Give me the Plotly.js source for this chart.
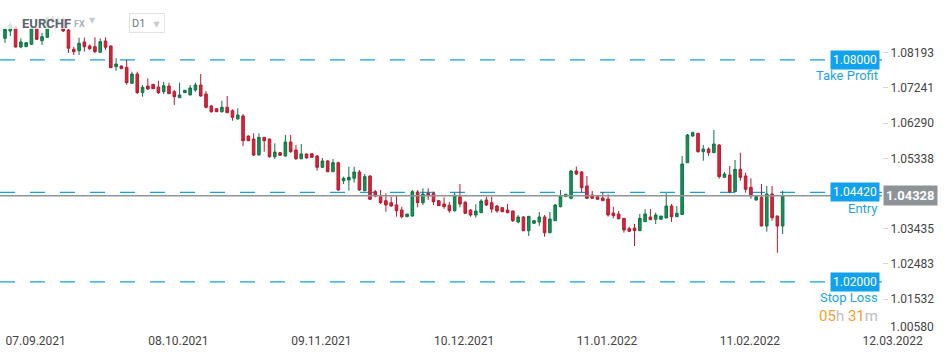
<!DOCTYPE html>
<html>
<head>
<meta charset="utf-8">
<script src="https://cdn.plot.ly/plotly-3.0.1.min.js"></script>
<style>
html,body{margin:0;padding:0;background:#fff;}
#chart{width:950px;height:360px;}
</style>
</head>
<body>
<div id="chart"></div>
<script>
// ---------------- data ----------------
const symbol = 'EURCHF';
const market = 'FX';
const timeframe = 'D1';
const firstDate = '2021-09-07';   // first daily bar (Sun–Fri bars, no Saturdays)

const open = [
1.08582,1.08779,1.08887,1.08347,1.08355,1.08420,1.08860,1.08517,1.08609,1.09131,
1.09022,1.09104,1.08806,1.08285,1.08247,1.08482,1.08374,1.08355,1.08204,1.08509,
1.08374,1.07814,1.07833,1.07798,1.07366,1.07617,1.07112,1.07293,1.07339,1.07266,
1.07139,1.07293,1.07139,1.06977,1.07112,1.07050,1.07185,1.07320,1.07077,1.06752,
1.06679,1.06598,1.06717,1.06625,1.06401,1.06482,1.05941,1.05860,1.05428,1.05906,
1.05860,1.05382,1.05490,1.05401,1.05779,1.05563,1.05328,1.05455,1.05463,1.05401,
1.05095,1.05266,1.04976,1.05220,1.04733,1.04752,1.04798,1.04968,1.04463,1.04860,
1.04436,1.04302,1.04193,1.04139,1.04077,1.03941,1.03760,1.03779,1.04428,1.04139,
1.04393,1.04393,1.04193,1.04104,1.04069,1.03922,1.04302,1.04150,1.03941,1.03806,
1.03868,1.04212,1.04139,1.04050,1.04004,1.03941,1.03914,1.03617,1.03752,1.03382,
1.03582,1.03617,1.03752,1.03328,1.03652,1.04031,1.04302,1.04258,1.04995,1.04968,
1.04590,1.04347,1.04302,1.04266,1.04239,1.03860,1.03833,1.03716,1.03436,1.03455,
1.03382,1.03625,1.03752,1.03690,1.03690,1.03725,1.04050,1.03760,1.03820,1.05220,
1.05941,1.06014,1.05517,1.05590,1.05490,1.05698,1.04825,1.04887,1.04436,1.05041,
1.04860,1.04555,1.04212,1.04285,1.03509,1.04374,1.03779,1.03509];

const high = [
1.08914,1.09022,1.08914,1.08582,1.08482,1.08941,1.08887,1.08725,1.09158,1.09185,
1.09158,1.09158,1.08833,1.08355,1.08598,1.08598,1.08414,1.08609,1.08582,1.08609,
1.08387,1.08042,1.07847,1.07995,1.07679,1.07679,1.07320,1.07501,1.07347,1.07436,
1.07409,1.07382,1.07185,1.07382,1.07185,1.07320,1.07382,1.07617,1.07158,1.06779,
1.06698,1.06895,1.07023,1.06663,1.06690,1.06536,1.05955,1.06014,1.06014,1.05914,
1.05874,1.05744,1.05509,1.05968,1.05968,1.05698,1.05725,1.05468,1.05468,1.05428,
1.05347,1.05293,1.05320,1.05247,1.04842,1.05112,1.05112,1.05022,1.04914,1.04879,
1.04482,1.04482,1.04393,1.04302,1.04347,1.04031,1.03833,1.04482,1.04482,1.04528,
1.04528,1.04436,1.04212,1.04285,1.04158,1.04409,1.04644,1.04185,1.03960,1.04096,
1.04231,1.04302,1.04302,1.04077,1.04023,1.04104,1.03922,1.03806,1.03779,1.03779,
1.03671,1.03887,1.03806,1.03887,1.04104,1.04482,1.04374,1.05022,1.05112,1.04995,
1.04860,1.04455,1.04307,1.04428,1.04366,1.04031,1.03914,1.03725,1.03490,1.03563,
1.03833,1.03960,1.03968,1.03868,1.03779,1.04393,1.04104,1.04050,1.05401,1.05995,
1.06058,1.06022,1.05698,1.05636,1.06103,1.05725,1.04968,1.05131,1.05293,1.05490,
1.04949,1.04798,1.04339,1.04644,1.04590,1.04590,1.03787,1.04463];

const low = [
1.08455,1.08644,1.08333,1.08312,1.08347,1.08401,1.08536,1.08401,1.08590,1.08968,
1.08968,1.08752,1.08185,1.08131,1.08131,1.08220,1.08266,1.08176,1.08193,1.08266,
1.07779,1.07706,1.07752,1.07328,1.07352,1.07077,1.07004,1.07185,1.07212,1.07077,
1.07077,1.07077,1.06779,1.06972,1.07104,1.07042,1.07139,1.07004,1.06690,1.06571,
1.06590,1.06571,1.06563,1.06355,1.06393,1.05671,1.05806,1.05401,1.05420,1.05517,
1.05355,1.05320,1.05401,1.05382,1.05490,1.05293,1.05312,1.05333,1.05360,1.05003,
1.05076,1.04968,1.04968,1.04463,1.04644,1.04463,1.04679,1.04463,1.04455,1.04212,
1.04285,1.04104,1.03895,1.04031,1.03760,1.03716,1.03752,1.03760,1.04014,1.04077,
1.04212,1.04077,1.04050,1.03976,1.03868,1.03895,1.04014,1.03833,1.03760,1.03733,
1.03860,1.04050,1.03868,1.03868,1.03887,1.03852,1.03617,1.03582,1.03374,1.03239,
1.03563,1.03509,1.03220,1.03312,1.03644,1.04014,1.04293,1.04231,1.04887,1.04409,
1.04239,1.04239,1.04226,1.04188,1.03760,1.03716,1.03689,1.03328,1.03347,1.02968,
1.03374,1.03617,1.03671,1.03563,1.03685,1.03720,1.03617,1.03752,1.03814,1.05212,
1.05922,1.05490,1.05274,1.05401,1.05482,1.04787,1.04820,1.04393,1.04428,1.04733,
1.04409,1.04247,1.04193,1.03500,1.03355,1.03652,1.02787,1.03293];

const close = [
1.08825,1.08941,1.08347,1.08482,1.08463,1.08860,1.08555,1.08625,1.09131,1.09022,
1.09104,1.08779,1.08312,1.08220,1.08447,1.08355,1.08301,1.08220,1.08490,1.08339,
1.07787,1.07887,1.07760,1.07382,1.07617,1.07112,1.07258,1.07212,1.07220,1.07112,
1.07301,1.07085,1.07004,1.07050,1.07177,1.07239,1.07320,1.07023,1.06717,1.06598,
1.06598,1.06717,1.06571,1.06447,1.06509,1.05814,1.05814,1.05428,1.05906,1.05814,
1.05382,1.05509,1.05420,1.05779,1.05517,1.05328,1.05455,1.05347,1.05366,1.05095,
1.05266,1.04976,1.05220,1.04482,1.04798,1.04825,1.04968,1.04482,1.04842,1.04231,
1.04320,1.04139,1.04077,1.04050,1.03922,1.03760,1.03833,1.04436,1.04139,1.04374,
1.04328,1.04166,1.04058,1.04031,1.03922,1.04339,1.04104,1.03852,1.03806,1.03914,
1.04185,1.04077,1.03968,1.03914,1.03895,1.03868,1.03652,1.03752,1.03382,1.03771,
1.03652,1.03752,1.03328,1.03698,1.04077,1.04302,1.04366,1.04995,1.04914,1.04544,
1.04258,1.04258,1.04231,1.04193,1.03806,1.03787,1.03706,1.03401,1.03366,1.03382,
1.03716,1.03833,1.03679,1.03806,1.03779,1.04050,1.03760,1.03852,1.05185,1.05968,
1.06031,1.05517,1.05590,1.05490,1.05725,1.04842,1.04914,1.04436,1.05041,1.04825,
1.04501,1.04320,1.04302,1.03509,1.04374,1.03733,1.03509,1.04328];

const labelDates = ['2021-09-07','2021-10-08','2021-11-09','2021-12-10','2022-01-11','2022-02-11','2022-03-12'];
const priceTicks = [1.08193,1.07241,1.06290,1.05338,1.03435,1.02483,1.01532];
const lowestTick = 1.00580;
const levelNames = ['Take Profit','Entry','Stop Loss'];
const levelValues = [1.08000,1.04420,1.02000];
const countdownParts = ['05','h',' ','31','m'];

// ---------------- helpers ----------------
const DAY = 86400000;
function buildDates(start, n){
  const out = [];
  let t = Date.parse(start + 'T00:00:00Z');
  while(out.length < n){
    const d = new Date(t);
    if(d.getUTCDay() !== 6) out.push(d.toISOString().slice(0,10));
    t += DAY;
  }
  return out;
}
const dates = buildDates(firstDate, open.length);
const idx = dates.map((d,i)=>i);

// bar position of a date: bar index inside the data, calendar days after the last bar
function datePos(d){
  const k = dates.indexOf(d);
  if(k >= 0) return k;
  const last = dates.length - 1;
  return last + Math.round((Date.parse(d) - Date.parse(dates[last])) / DAY);
}
function fmtDate(d){ const [y,m,dd] = d.split('-'); return dd + '.' + m + '.' + y; }

const PW = 882, PH = 330;              // plot area in px
const px = x => x / PW;                // px -> paper x
const py = y => 1 - y / PH;            // px -> paper y

const blue = '#10a2ec';
const lastClose = close[close.length - 1];

// ---------------- traces ----------------
const candles = {
  type: 'candlestick',
  x: idx, open: open, high: high, low: low, close: close,
  increasing: {line: {color: '#0c7443', width: 1}, fillcolor: '#13945a'},
  decreasing: {line: {color: '#b81a2e', width: 1}, fillcolor: '#dc2339'},
  whiskerwidth: 0,
  hoverinfo: 'skip',
  showlegend: false
};

// ---------------- shapes ----------------
const shapes = [];
levelValues.forEach(v => {
  shapes.push({type:'line', xref:'paper', yref:'y', x0:0, x1:1, y0:v, y1:v,
    line:{color: blue, width:1.3, dash:'15px,15px'}, layer:'below'});
});
shapes.push({type:'line', xref:'paper', yref:'y', x0:0, x1:1, y0:lastClose, y1:lastClose,
  line:{color:'#8f9499', width:1.5}, layer:'above'});
// header veil
shapes.push({type:'rect', xref:'paper', yref:'paper', x0:0, x1:px(172), y0:py(29), y1:1,
  fillcolor:'rgba(255,255,255,0.8)', line:{width:0}, layer:'above'});

// ---------------- annotations ----------------
const ann = [];
ann.push({xref:'paper', yref:'paper', x:px(20), y:py(23), xanchor:'left', yanchor:'middle',
  text:'<b>'+symbol+'</b>', showarrow:false, font:{family:'Roboto', size:13, color:'#5b656f'}});
ann.push({xref:'paper', yref:'paper', x:px(72), y:py(24), xanchor:'left', yanchor:'middle',
  text:'<b>'+market+'</b>', showarrow:false, font:{family:'Roboto', size:9, color:'#aab1b8'}});
ann.push({xref:'paper', yref:'paper', x:px(87), y:py(21), xanchor:'left', yanchor:'middle',
  text:'▼', showarrow:false, font:{family:'DejaVu Sans', size:8, color:'#c8ccd0'}});
ann.push({xref:'paper', yref:'paper', x:px(129), y:py(23), xanchor:'left', yanchor:'middle',
  text: timeframe + '&nbsp;&nbsp;&nbsp;<span style="color:#c8ccd0;font-size:8px;font-family:DejaVu Sans">▼</span>',
  showarrow:false, align:'left', width:30, height:14, borderpad:2,
  bordercolor:'#e1e4e7', borderwidth:1, bgcolor:'rgba(255,255,255,0.6)',
  font:{family:'Roboto', size:11, color:'#6c7680'}});

levelValues.forEach((v,i) => {
  ann.push({xref:'paper', yref:'y', x:1, y:v, xanchor:'right', yanchor:'middle', xshift:-2,
    text: v.toFixed(5), showarrow:false, bgcolor: blue, borderpad:2,
    font:{family:'Roboto', size:12, color:'#ffffff'}});
  ann.push({xref:'paper', yref:'y', x:1, y:v, xanchor:'right', yanchor:'middle', xshift:-2, yshift:-16,
    text: levelNames[i], showarrow:false, font:{family:'Roboto', size:13, color:'#1da5e9'}});
});
// countdown under the stop loss
const cdColors = ['#f6a12a','#bdbdbd','#bdbdbd','#f6a12a','#bdbdbd'];
ann.push({xref:'paper', yref:'y', x:1, y:levelValues[2], xanchor:'right', yanchor:'middle', xshift:-2, yshift:-34,
  text: countdownParts.map((p,i)=>'<span style="color:'+cdColors[i]+'">'+p+'</span>').join(''),
  showarrow:false, font:{family:'Roboto', size:15, color:'#bdbdbd'}});
// current price tag
ann.push({xref:'paper', yref:'y', x:1, y:lastClose, xanchor:'left', yanchor:'middle', xshift:1,
  text:'<b>'+lastClose.toFixed(5)+'</b>', showarrow:false, bgcolor:'#8e9398', borderpad:2,
  font:{family:'Roboto', size:13, color:'#ffffff'}});
// lowest price label (pushed up above the date row, as on the original)
ann.push({xref:'paper', yref:'paper', x:1, y:0, xanchor:'left', yanchor:'middle', xshift:6, yshift:3,
  text: lowestTick.toFixed(5), showarrow:false, font:{family:'Roboto', size:12, color:'#444444'}});

// ---------------- layout ----------------
const layout = {
  width: 950, height: 360,
  margin: {l:0, r:68, t:0, b:30, pad:0},
  paper_bgcolor:'#ffffff', plot_bgcolor:'#ffffff',
  font:{family:'Roboto', size:12, color:'#444444'},
  showlegend:false,
  xaxis:{
    type:'linear',
    range:[-0.945, 165.78],
    rangeslider:{visible:false},
    showgrid:false, zeroline:false, showline:false,
    tickmode:'array',
    tickvals: labelDates.map(datePos),
    ticktext: labelDates.map(fmtDate),
    ticks:'outside', ticklen:3, tickcolor:'rgba(0,0,0,0)',
    ticklabelposition:'outside right',
    tickfont:{family:'Roboto', size:12, color:'#444444'},
    fixedrange:true
  },
  yaxis:{
    side:'right',
    range:[1.00698, 1.09617],
    showgrid:false, zeroline:false, showline:false,
    tickmode:'array',
    tickvals: priceTicks,
    ticktext: priceTicks.map(v=>v.toFixed(5)),
    ticks:'outside', ticklen:5, tickcolor:'#d5d8db', tickwidth:1,
    tickfont:{family:'Roboto', size:12, color:'#444444'},
    fixedrange:true
  },
  shapes: shapes,
  annotations: ann
};

Plotly.newPlot('chart', [candles], layout, {displayModeBar:false, staticPlot:true});
</script>
</body>
</html>
